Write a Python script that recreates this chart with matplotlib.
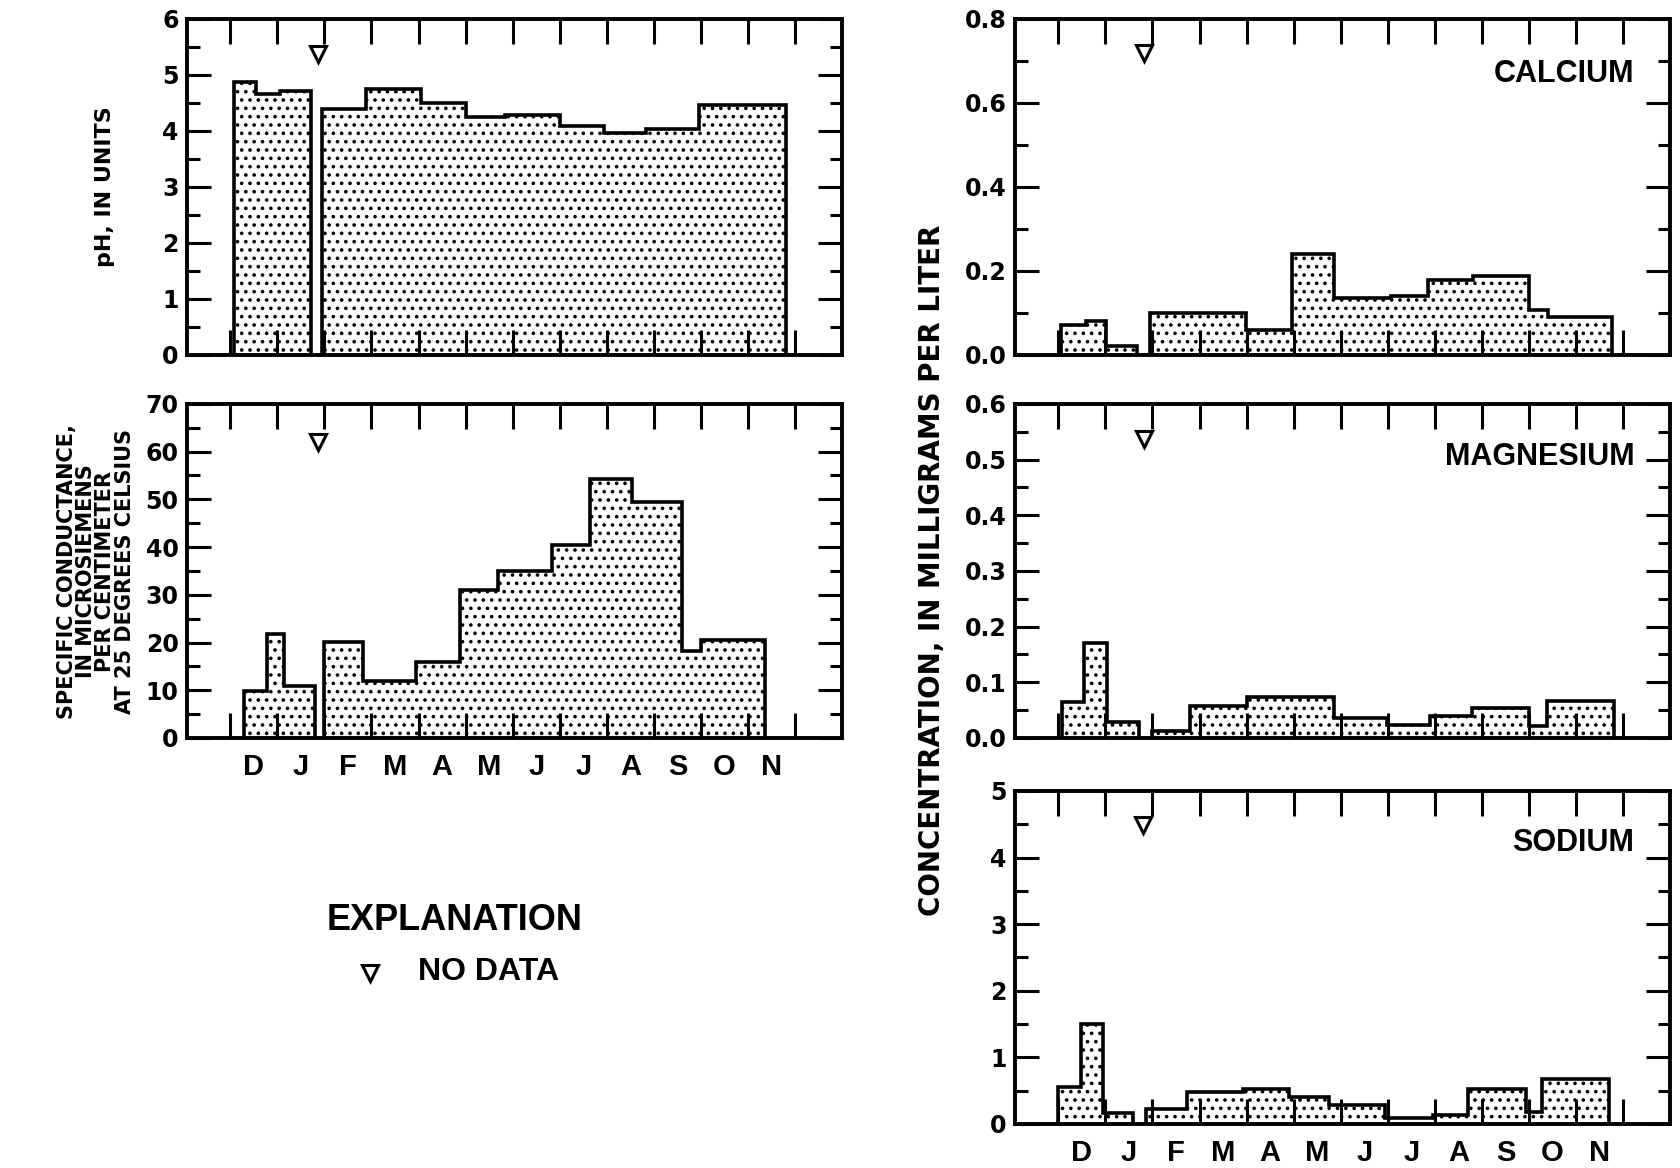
import numpy as np
import matplotlib
matplotlib.use("Agg")
import matplotlib.pyplot as plt

nan = np.nan

months = ["D", "J", "F", "M", "A", "M", "J", "J", "A", "S", "O", "N"]

# step edges in month units (0 = start of December), nan value = gap (no data)
ph_edges = [0.08, 0.55, 1.05, 1.71, 1.95, 2.88, 4.06, 5.0, 5.83, 7.0, 7.94, 8.84, 9.96, 11.8]
ph_values = [4.88, 4.66, 4.72, nan, 4.40, 4.74, 4.49, 4.24, 4.29, 4.08, 3.97, 4.03, 4.46]

cond_edges = [0.3, 0.78, 1.14, 1.8, 2.0, 2.83, 3.95, 4.87, 5.69, 6.84, 7.65, 8.53, 9.6, 10.0, 11.36]
cond_values = [9.9, 21.8, 10.9, nan, 20.1, 12.0, 16.0, 31.1, 34.9, 40.5, 54.3, 49.5, 18.3, 20.6]

ca_edges = [0.06, 0.58, 1.01, 1.68, 1.94, 3.99, 4.96, 5.86, 7.06, 7.85, 8.8, 10.0, 10.4, 11.76]
ca_values = [0.072, 0.082, 0.022, nan, 0.10, 0.06, 0.24, 0.135, 0.14, 0.178, 0.188, 0.108, 0.09]

mg_edges = [0.08, 0.54, 1.03, 1.71, 2.0, 2.8, 4.0, 5.86, 6.98, 7.9, 8.78, 10.0, 10.38, 11.8]
mg_values = [0.065, 0.17, 0.028, nan, 0.013, 0.057, 0.073, 0.035, 0.024, 0.04, 0.054, 0.022, 0.067]

na_edges = [0.0, 0.49, 0.94, 1.58, 1.87, 2.73, 3.92, 4.89, 5.75, 6.95, 7.95, 8.7, 9.93, 10.27, 11.69]
na_values = [0.55, 1.5, 0.16, nan, 0.23, 0.48, 0.52, 0.40, 0.28, 0.09, 0.13, 0.52, 0.18, 0.68]

# "no data" markers (x in month units, y in data units)
nodata_x = [1.86, 1.86, 1.82, 1.83, 1.80]
nodata_y = [5.38, 62.0, 0.72, 0.537, 4.49]

plt.rcParams["font.family"] = ["Liberation Sans", "DejaVu Sans"]
plt.rcParams["font.weight"] = "bold"
plt.rcParams["hatch.linewidth"] = 1.4
plt.rcParams["hatch.color"] = "black"

fig = plt.figure(figsize=(16.8, 11.68), dpi=100)

ax_ph = fig.add_axes([0.1113, 0.6961, 0.39, 0.2877])
ax_cond = fig.add_axes([0.1113, 0.3682, 0.39, 0.2860])
ax_ca = fig.add_axes([0.6042, 0.6961, 0.39, 0.2877])
ax_mg = fig.add_axes([0.6042, 0.3682, 0.39, 0.2860])
ax_na = fig.add_axes([0.6042, 0.0377, 0.39, 0.2851])


def draw_steps(ax, edges, values):
    edges = np.array(edges)
    values = np.array(values)
    ok = ~np.isnan(values)
    i = 0
    while i < len(values):
        if not ok[i]:
            i += 1
            continue
        j = i
        while j < len(values) and ok[j]:
            j += 1
        e = edges[i:j + 1]
        v = values[i:j]
        ax.stairs(v, e, baseline=0, fill=True, facecolor="white",
                  edgecolor="black", linewidth=0, hatch="..", zorder=1)
        ax.stairs(v, e, baseline=0, color="black", linewidth=2.6, zorder=3)
        i = j


def style(ax, ymax, major, minor, fmt, show_months):
    ax.set_xlim(-0.92, 13.0)
    ax.set_ylim(0, ymax)
    ax.set_xticks(range(13))
    ax.tick_params(axis="x", which="major", direction="in", top=True, bottom=True,
                   length=18, width=2.2, labelbottom=False)
    if show_months:
        ax.set_xticks(np.arange(12) + 0.5, minor=True)
        ax.set_xticklabels(months, minor=True, fontsize=21, fontweight="bold")
        ax.tick_params(axis="x", which="minor", length=0, pad=11)
    yt = np.arange(0, ymax + major / 2, major)
    ax.set_yticks(yt)
    ax.set_yticklabels([fmt.format(v) for v in yt], fontsize=17, fontweight="bold",
                       family=["DejaVu Sans"])
    ax.set_yticks(np.arange(0, ymax + minor / 2, minor), minor=True)
    ax.tick_params(axis="y", which="both", direction="in", left=True, right=True, width=2.2, pad=6)
    ax.tick_params(axis="y", which="major", length=17)
    ax.tick_params(axis="y", which="minor", length=9)
    for s in ax.spines.values():
        s.set_linewidth(2.8)


draw_steps(ax_ph, ph_edges, ph_values)
style(ax_ph, 6, 1, 0.5, "{:.0f}", False)

draw_steps(ax_cond, cond_edges, cond_values)
style(ax_cond, 70, 10, 5, "{:.0f}", True)

draw_steps(ax_ca, ca_edges, ca_values)
style(ax_ca, 0.8, 0.2, 0.1, "{:.1f}", False)

draw_steps(ax_mg, mg_edges, mg_values)
style(ax_mg, 0.6, 0.1, 0.05, "{:.1f}", False)

draw_steps(ax_na, na_edges, na_values)
style(ax_na, 5, 1, 0.5, "{:.0f}", True)

for ax, x, y in zip([ax_ph, ax_cond, ax_ca, ax_mg, ax_na], nodata_x, nodata_y):
    ax.plot(x, y, marker="v", ms=12, mfc="white", mec="black", mew=2.2, zorder=4)

for ax, name, ypos in [(ax_ca, "CALCIUM", 0.835), (ax_mg, "MAGNESIUM", 0.84), (ax_na, "SODIUM", 0.845)]:
    ax.text(0.945, ypos, name, transform=ax.transAxes, ha="right", va="center",
            fontsize=22, fontweight="bold")

fig.text(0.0625, 0.84, "pH, IN UNITS", rotation=90, ha="center", va="center",
         fontsize=16, fontweight="bold", family=["DejaVu Sans"])
fig.text(0.057, 0.511, "SPECIFIC CONDUCTANCE,\nIN MICROSIEMENS\nPER CENTIMETER\nAT 25 DEGREES CELSIUS",
         rotation=90, ha="center", va="center", multialignment="center",
         fontsize=15, fontweight="bold", linespacing=0.95, family=["DejaVu Sans"])
fig.text(0.555, 0.512, "CONCENTRATION, IN MILLIGRAMS PER LITER", rotation=90,
         ha="center", va="center", fontsize=20, fontweight="bold", family=["DejaVu Sans"])

fig.text(455 / 1680, 1 - 921 / 1168, "EXPLANATION", ha="center", va="center",
         fontsize=26, fontweight="bold")
fig.lines.append(plt.Line2D([370 / 1680], [1 - 973 / 1168], transform=fig.transFigure,
                            marker="v", ms=11, mfc="white", mec="black", mew=2.2))
fig.text(418 / 1680, 1 - 972 / 1168, "NO DATA", ha="left", va="center",
         fontsize=23, fontweight="bold")

fig.savefig("out.png", dpi=100)
